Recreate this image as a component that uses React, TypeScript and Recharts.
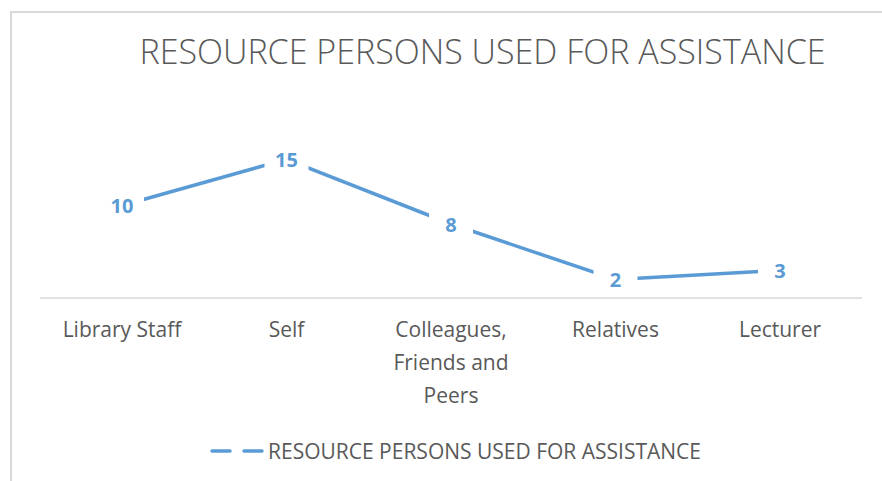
import React from "react";
import { LabelList, Line, LineChart, Text, XAxis, YAxis } from "recharts";

const categories = ["Library Staff", "Self", "Colleagues, Friends and Peers", "Relatives", "Lecturer"];
const persons = [10, 15, 8, 2, 3];
const seriesName = "RESOURCE PERSONS USED FOR ASSISTANCE";

const data = categories.map((c, i) => ({ category: c, persons: persons[i] }));

const BLUE = "#5b9bd5";
const GREY = "#595959";
const FONT = "'Open Sans', 'Noto Sans', sans-serif";

function CategoryTick(props: any) {
  const { x, y, payload } = props;
  return (
    <Text
      x={x}
      y={y + 16}
      width={132}
      textAnchor="middle"
      verticalAnchor="start"
      lineHeight={33}
      fill={GREY}
      style={{ fontSize: "21px", fontFamily: FONT }}
    >
      {payload.value}
    </Text>
  );
}

function PointLabel(props: any) {
  const { x, y, value } = props;
  return (
    <g>
      <rect x={x - 22} y={y - 17} width={44} height={34} rx={6} fill="#ffffff" />
      <text
        x={x}
        y={y}
        textAnchor="middle"
        dominantBaseline="central"
        fill={BLUE}
        fontSize={20}
        fontWeight={700}
        fontFamily={FONT}
      >
        {value}
      </text>
    </g>
  );
}

export default function App() {
  return (
    <div style={{ position: "fixed", left: 0, top: 0, width: 882, height: 481, background: "#fff", overflow: "hidden", fontFamily: FONT }}>
      <div
        style={{
          position: "absolute",
          left: 10,
          top: 11,
          width: 1000,
          height: 600,
          borderLeft: "2px solid #d9d9d9",
          borderTop: "2px solid #d9d9d9",
        }}
      />
      <div
        style={{
          position: "absolute",
          left: 0,
          width: 882,
          top: 28,
          textAlign: "center",
          paddingLeft: 83,
          boxSizing: "border-box",
          fontSize: 34,
          fontWeight: 300,
          color: GREY,
          whiteSpace: "nowrap",
        }}
      >
        {seriesName}
      </div>
      <div style={{ position: "absolute", left: 0, top: 0 }}>
        <LineChart
          width={882}
          height={481}
          data={data}
          margin={{ top: 150, right: 20, bottom: 153, left: 40 }}
        >
          <YAxis hide domain={[0, 16]} />
          <XAxis
            dataKey="category"
            height={30}
            interval={0}
            padding={{ left: 82, right: 82 }}
            axisLine={{ stroke: "#d9d9d9", strokeWidth: 1.5 }}
            tickLine={false}
            tick={<CategoryTick />}
          />
          <Line
            type="linear"
            dataKey="persons"
            name={seriesName}
            stroke={BLUE}
            strokeWidth={3.5}
            dot={false}
            isAnimationActive={false}
          >
            <LabelList dataKey="persons" content={<PointLabel />} />
          </Line>
        </LineChart>
      </div>
      <div
        style={{
          position: "absolute",
          left: 209,
          top: 437,
          display: "flex",
          alignItems: "center",
          fontSize: 21,
          color: GREY,
          whiteSpace: "nowrap",
        }}
      >
        <svg width={58} height={8} style={{ marginRight: 1 }}>
          <line x1={3} y1={4} x2={55} y2={4} stroke={BLUE} strokeWidth={3.5} strokeDasharray="18 14" strokeLinecap="round" />
        </svg>
        {seriesName}
      </div>
    </div>
  );
}
